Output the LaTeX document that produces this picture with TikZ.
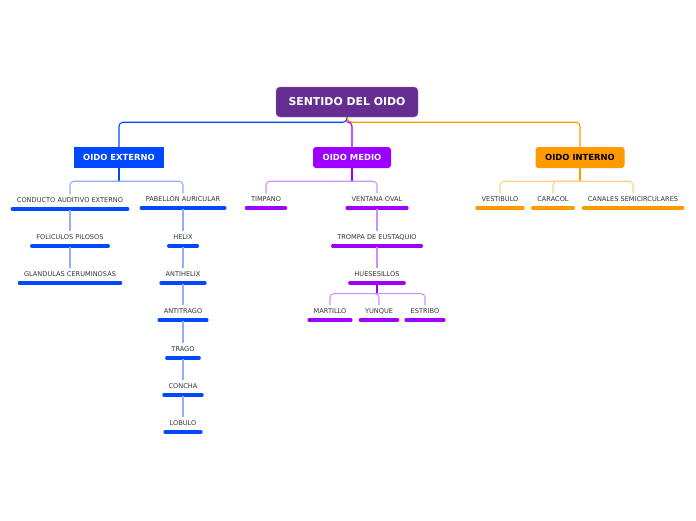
\documentclass[tikz,border=0pt]{standalone}
\usepackage{fontspec}
\setmainfont{DejaVu Sans}
\definecolor{rootpurple}{HTML}{662D91}
\definecolor{extblue}{HTML}{0049FF}
\definecolor{extlight}{HTML}{8FAEFF}
\definecolor{medpurple}{HTML}{9E00FF}
\definecolor{medlight}{HTML}{D090FF}
\definecolor{intorange}{HTML}{FF9A00}
\definecolor{intlight}{HTML}{FFD08A}
\definecolor{leafgray}{HTML}{333333}
\begin{document}
\begin{tikzpicture}[
                x=1pt, y=-1pt,
                root/.style={fill=rootpurple, draw=rootpurple!70, rounded corners=4pt, text=white,
                        font=\fontsize{10.9}{13}\selectfont\bfseries, minimum width=142pt, minimum height=30pt},
                topic/.style={fill=#1, text=white, font=\fontsize{8.4}{10}\selectfont\bfseries, minimum height=21pt},
                leaf/.style={font=\fontsize{6.6}{8}\selectfont, text=leafgray, inner xsep=4.5pt, inner ysep=3pt,
                        text height=4.8pt, text depth=0pt,
                        append after command={([yshift=-3.4pt]\tikzlastnode.south west)
                                edge[line width=3.2pt, line cap=round, draw=#1] ([yshift=-3.4pt]\tikzlastnode.south east)}},
                conn/.style={draw=#1, line width=1.1pt, rounded corners=4pt}
            ]

            \useasboundingbox (0,0) rectangle (696,520);

            \node[root] (oido) at (347,102) {SENTIDO DEL OIDO};

            \node[topic=extblue, minimum width=90pt] (externo) at (119,157.5) {OIDO EXTERNO};
            \node[topic=medpurple, minimum width=78pt, rounded corners=3pt] (medio) at (352,157.5) {OIDO MEDIO};
            \node[topic=intorange, minimum width=89pt, rounded corners=3pt, text=black] (interno) at (580,157.5) {OIDO INTERNO};

            \node[leaf=extblue] (conducto) at (70,200) {CONDUCTO AUDITIVO EXTERNO};
            \node[leaf=extblue] (foliculos) at (70,237) {FOLICULOS PILOSOS};
            \node[leaf=extblue] (glandulas) at (70,274) {GLANDULAS CERUMINOSAS};
            \node[leaf=extblue] (pabellon) at (183,199) {PABELLON AURICULAR};
            \node[leaf=extblue] (helix) at (183,237) {HELIX};
            \node[leaf=extblue] (antihelix) at (183,274) {ANTIHELIX};
            \node[leaf=extblue] (antitrago) at (183,311) {ANTITRAGO};
            \node[leaf=extblue] (trago) at (183,349) {TRAGO};
            \node[leaf=extblue] (concha) at (183,386) {CONCHA};
            \node[leaf=extblue] (lobulo) at (183,423) {LOBULO};

            \node[leaf=medpurple] (timpano) at (266,199) {TIMPANO};
            \node[leaf=medpurple] (ventana) at (377,199) {VENTANA OVAL};
            \node[leaf=medpurple] (trompa) at (377,237) {TROMPA DE EUSTAQUIO};
            \node[leaf=medpurple] (huesesillos) at (377,274) {HUESESILLOS};
            \node[leaf=medpurple] (martillo) at (330,311) {MARTILLO};
            \node[leaf=medpurple] (yunque) at (379,311) {YUNQUE};
            \node[leaf=medpurple] (estribo) at (425,311) {ESTRIBO};

            \node[leaf=intorange] (vestibulo) at (500,199) {VESTIBULO};
            \node[leaf=intorange] (caracol) at (553,199) {CARACOL};
            \node[leaf=intorange] (canales) at (633,199) {CANALES SEMICIRCULARES};

            \draw[conn=extblue] (oido.south) -- ++(0,5) -| (externo.north);
            \draw[conn=medpurple] (oido.south) -- ++(0,5) -| (medio.north);
            \draw[conn=intorange] (oido.south) -- ++(0,5) -| (interno.north);

            \draw[conn=extblue] (externo.south) -- ++(0,13) coordinate (extj);
            \foreach \b in {conducto, pabellon}
                \draw[conn=extlight] (extj) -| (\b.north);
            \foreach \a/\b in {conducto/foliculos, foliculos/glandulas, pabellon/helix, helix/antihelix,
                    antihelix/antitrago, antitrago/trago, trago/concha, concha/lobulo}
                \draw[conn=extlight] ([yshift=-4pt]\a.south) -- (\b.north);

            \draw[conn=medpurple] (medio.south) -- ++(0,13) coordinate (medj);
            \foreach \b in {timpano, ventana}
                \draw[conn=medlight] (medj) -| (\b.north);
            \foreach \a/\b in {ventana/trompa, trompa/huesesillos}
                \draw[conn=medlight] ([yshift=-4pt]\a.south) -- (\b.north);
            \draw[conn=medpurple] ([yshift=-4pt]huesesillos.south) -- ++(0,10) coordinate (huej);
            \foreach \b in {martillo, yunque, estribo}
                \draw[conn=medlight] (huej) -| (\b.north);

            \draw[conn=intorange] (interno.south) -- ++(0,13) coordinate (intj);
            \foreach \b in {vestibulo, caracol, canales}
                \draw[conn=intlight] (intj) -| (\b.north);

        \end{tikzpicture}
\end{document}
